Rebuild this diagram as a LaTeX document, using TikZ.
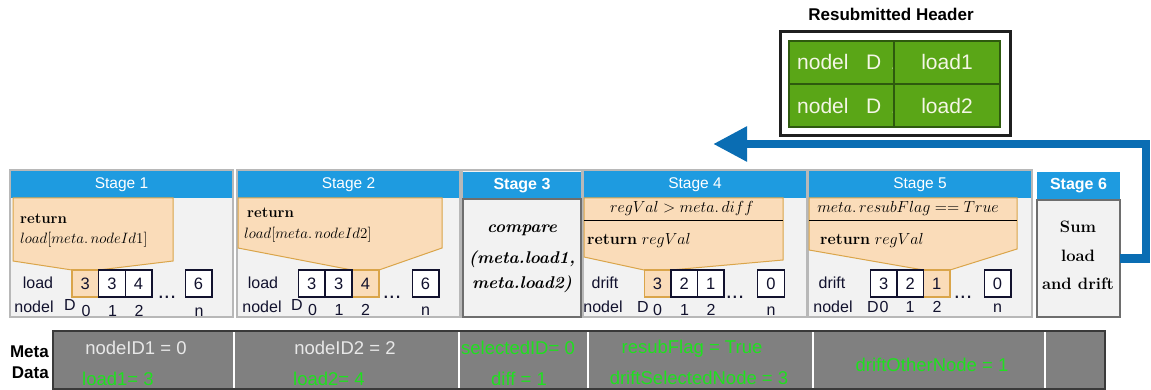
\RequirePackage{fix-cm}
\documentclass[tikz,border=0pt]{standalone}
\usepackage{fontspec}
\newfontfamily\sans{Liberation Sans}
\usetikzlibrary{arrows.meta}
\definecolor{stageblue}{HTML}{1E9BE0}
\definecolor{framegray}{HTML}{B8B8B8}
\definecolor{darkframe}{HTML}{6E6E6E}
\definecolor{bodygray}{HTML}{F2F2F2}
\definecolor{peach}{HTML}{FADCB9}
\definecolor{ochre}{HTML}{DAA54A}
\definecolor{hdrgreen}{HTML}{5AA617}
\definecolor{hdrdark}{HTML}{2E5A0E}
\definecolor{hdrtext}{HTML}{F4F6E6}
\definecolor{flowblue}{HTML}{0A6DB3}
\definecolor{metagray}{HTML}{808080}
\definecolor{metaedge}{HTML}{3A3A3A}
\definecolor{metagreen}{HTML}{1FE01F}
\definecolor{metawhite}{HTML}{E8E8E8}
\definecolor{ink}{HTML}{12122E}
\newcommand{\fs}[1]{\fontsize{#1}{#1}\selectfont}
\begin{document}
\begin{tikzpicture}[x=1pt,y=-1pt,
  box/.style={anchor=north west, inner sep=0, outer sep=0},
  stageframe/.style={box, draw=framegray, fill=bodygray, line width=1.2pt},
  stagehead/.style={box, fill=stageblue, text=white, font=\sans\fs{15.5}},
  boldhead/.style={stagehead, font=\sans\bfseries\fs{16}},
  darkbody/.style={box, draw=darkframe, fill=bodygray, line width=1.3pt},
  callout/.style={fill=peach, draw=ochre, line width=1pt},
  cell/.style={draw=ink, line width=1.4pt, fill=white, minimum width=26.6,
    minimum height=27, inner sep=0, font=\sans\fs{16.5}, text=ink},
  hcell/.style={cell, draw=ochre, fill=peach},
  lbl/.style={anchor=base, inner sep=0, font=\sans\fs{16}, text=ink},
  dots/.style={anchor=base, inner sep=0, font=\sans\fs{22}, text=ink},
  codeA/.style={anchor=west, inner sep=0, font=\fs{15}, text=black},
  codeB/.style={anchor=west, inner sep=0, font=\fs{16}, text=black},
  serifbold/.style={inner sep=0, font=\bfseries\fs{16.5}, text=black},
  hdrtxt/.style={anchor=west, inner sep=0, font=\sans\fs{21}, text=hdrtext},
  metabox/.style={box, fill=metagray, draw=white, line width=1.2pt, minimum height=58},
  metatxt/.style={inner sep=0, font=\sans\fs{18.5}, text=metawhite},
  metagr/.style={metatxt, text=metagreen},
  flow/.style={draw=flowblue, line width=8.5pt, -{Triangle[length=34pt,width=33pt]}},
]
\useasboundingbox (0,0) rectangle (1151,390);

% ---------- resubmitted header ----------
\node[inner sep=0, font=\sans\bfseries\fs{17}] (rtitle) at (891,14) {Resubmitted Header};
\node[box, draw=black!88, line width=3pt, fill=white, minimum width=230, minimum height=104] (rh) at (780,32) {};
\node[box, fill=hdrgreen, draw=hdrdark, line width=1.5pt, minimum width=211, minimum height=86] (rg) at (789,41) {};
\begin{scope}
  \clip (789,41) rectangle (893.5,127);
  \node[hdrtxt] (ida) at (797,62) {nodel};
  \node[hdrtxt] (idb) at (866,62) {D};
  \node[hdrtxt] (idc) at (890.8,62) {1};
  \node[hdrtxt] (idd) at (797,106) {nodel};
  \node[hdrtxt] (ide) at (866,106) {D};
  \node[hdrtxt] (idf) at (891.6,106) {2};
\end{scope}
\draw[hdrdark, line width=1.5pt] (789,84) -- (1000,84);
\draw[hdrdark, line width=2.6pt] (894,41) -- (894,127);
\node[inner sep=0, font=\sans\fs{21}, text=hdrtext] (ld1) at (947,62) {load1};
\node[inner sep=0, font=\sans\fs{21}, text=hdrtext] (ld2) at (947,106) {load2};

% ---------- stage frames and headers ----------
\node[stageframe, minimum width=223, minimum height=147] (s1) at (10,170) {};
\node[stagehead, minimum width=221, minimum height=26.5] (h1) at (11,171.5) {Stage 1};
\node[stageframe, minimum width=223, minimum height=147] (s2) at (237,170) {};
\node[stagehead, minimum width=221, minimum height=26.5] (h2) at (238,171.5) {Stage 2};
\node[stageframe, minimum width=120, minimum height=147] (s3f) at (462,170) {};
\node[boldhead, minimum width=118, minimum height=27] (h3) at (463,172) {Stage 3};
\node[darkbody, minimum width=118, minimum height=118] (s3) at (463,199) {};
\node[stageframe, minimum width=224, minimum height=147] (s4) at (583,170) {};
\node[stagehead, minimum width=222, minimum height=26.5] (h4) at (584,171.5) {Stage 4};
\node[stageframe, minimum width=224, minimum height=147] (s5) at (808,170) {};
\node[stagehead, minimum width=222, minimum height=26.5] (h5) at (809,171.5) {Stage 5};
\node[boldhead, minimum width=83, minimum height=28] (h6) at (1037,172) {Stage 6};
\node[darkbody, minimum width=83, minimum height=117] (s6) at (1037,200) {};

% ---------- stage 1 ----------
\draw[callout] (13,198) -- (173,198) -- (173,261) -- (98.5,270) -- (72,270) -- (13,261) -- cycle;
\node[codeA] (r1a) at (20,219) {\textbf{return}};
\node[codeA] (r1b) at (20,240) {$load[meta.\,nodeId1]$};
\node[hcell] (a0) at (85.3,283.5) {3};
\node[cell] (a1) at (111.9,283.5) {3};
\node[cell] (a2) at (138.5,283.5) {4};
\node[cell] (an) at (198.5,283.5) {6};
\node[dots] (ad) at (167,298) {...};
\node[lbl] (al) at (38,288) {load};
\node[lbl] (ak) at (34,312) {nodel};
\node[lbl] (aD) at (70,310) {D};
\node[lbl] (ai0) at (86,316) {0};
\node[lbl] (ai1) at (112.5,316) {1};
\node[lbl] (ai2) at (139,316) {2};
\node[lbl] (ain) at (199,316) {n};

% ---------- stage 2 ----------
\draw[callout] (238,198) -- (442,198) -- (442,248) -- (379,270) -- (352,270) -- (238,248) -- cycle;
\node[codeA] (r2a) at (247,213) {\textbf{return}};
\node[codeA] (r2b) at (244,235) {$load[meta.\,nodeId2]$};
\node[hcell] (b2) at (365.5,283.5) {4};
\node[cell] (b0) at (311.8,283.5) {3};
\node[cell] (b1) at (338.6,283.5) {3};
\node[cell] (bn) at (425.5,283.5) {6};
\node[dots] (bd) at (392,298) {...};
\node[lbl] (bl) at (263,288) {load};
\node[lbl] (bk) at (262,312) {nodel};
\node[lbl] (bD) at (297,310) {D};
\node[lbl] (bi0) at (312.5,315) {0};
\node[lbl] (bi1) at (339,315) {1};
\node[lbl] (bi2) at (365.5,315) {2};
\node[lbl] (bin) at (425.5,315) {n};

% ---------- stage 3 ----------
\node[serifbold, font=\bfseries\itshape\fs{17}] (c3a) at (522,230) {compare};
\node[serifbold, font=\bfseries\itshape\fs{17}] (c3b) at (522,259) {(meta.load1,};
\node[serifbold, font=\bfseries\itshape\fs{17}] (c3c) at (522,284) {meta.load2)};

% ---------- stage 4 ----------
\draw[callout] (584,198) -- (783,198) -- (783,260) -- (671,270) -- (644,270) -- (584,257) -- cycle;
\draw[black, line width=1pt] (584,221) -- (783,221);
\node[inner sep=0, font=\fs{16}, text=black] (r4a) at (682,209) {$regVal > meta.\,diff$};
\node[codeB] (r4b) at (587,240) {\textbf{return} $regVal$};
\node[hcell] (d0) at (657.5,283.5) {3};
\node[cell] (d1) at (684.1,283.5) {2};
\node[cell] (d2) at (710.7,283.5) {1};
\node[cell] (dn) at (771,283.5) {0};
\node[dots] (dd) at (735,298) {...};
\node[lbl] (dl) at (605,288) {drift};
\node[lbl] (dk) at (603,312) {nodel};
\node[lbl] (dD) at (643,312) {D};
\node[lbl] (di0) at (657.5,315) {0};
\node[lbl] (di1) at (684.5,315) {1};
\node[lbl] (di2) at (711,315) {2};
\node[lbl] (din) at (771,315) {n};

% ---------- stage 5 ----------
\draw[callout] (809,198) -- (1017,198) -- (1017,249) -- (950,270) -- (923.5,270) -- (809,250) -- cycle;
\draw[black, line width=1pt] (809,221) -- (1017,221);
\node[inner sep=0, font=\fs{16}, text=black] (r5a) at (908,209) {$meta.\,resubFlag == True$};
\node[codeB] (r5b) at (820,240) {\textbf{return} $regVal$};
\node[hcell] (e2) at (936.8,283.5) {1};
\node[cell] (e0) at (883.6,283.5) {3};
\node[cell] (e1) at (910.2,283.5) {2};
\node[cell] (en) at (997.5,283.5) {0};
\node[dots] (ed) at (963,298) {...};
\node[lbl] (el) at (832,288) {drift};
\node[lbl] (ek) at (833,312) {nodel};
\node[lbl] (eD) at (873,312) {D};
\node[lbl] (ei0) at (884,312) {0};
\node[lbl] (ei1) at (910,312) {1};
\node[lbl] (ei2) at (937,312) {2};
\node[lbl] (ein) at (997.5,312) {n};

% ---------- stage 6 ----------
\node[serifbold] (c6a) at (1078,227) {Sum};
\node[serifbold] (c6b) at (1078,256) {load};
\node[serifbold] (c6c) at (1078,284) {and drift};

% ---------- resubmission path ----------
\coordinate (tip) at (713,144);
\draw[flow] (s6.east) -- ++(26,0) |- (tip);

% ---------- metadata row ----------
\node[inner sep=0, anchor=east, font=\sans\bfseries\fs{17}] (mt1) at (49,352) {Meta};
\node[inner sep=0, anchor=east, font=\sans\bfseries\fs{17}] (mt2) at (49,373) {Data};
\node[metabox, minimum width=181] (m1) at (53,331) {};
\node[metabox, minimum width=225] (m2) at (234,331) {};
\node[metabox, minimum width=129] (m3) at (459,331) {};
\node[metabox, minimum width=225] (m4) at (588,331) {};
\node[metabox, minimum width=232] (m5) at (813,331) {};
\node[metabox, minimum width=60] (m6) at (1045,331) {};
\draw[metaedge, line width=1.6pt] (53,331) rectangle (1105,389);
\node[metatxt] (t1a) at (136,348) {nodeID1 = 0};
\node[metagr, anchor=west] (t1b) at (82,379) {load1= 3};
\node[metatxt] (t2a) at (345,348) {nodeID2 = 2};
\node[metagr, anchor=west] (t2b) at (293,379) {load2= 4};
\node[metagr, anchor=west] (t3a) at (461,348) {selectedID= 0};
\node[metagr] (t3b) at (519,379) {diff = 1};
\node[metagr] (t4a) at (692,349) {resubFlag = True};
\node[metagr] (t4b) at (699,378) {driftSelectedNode = 3};
\node[metagr] (t5a) at (932,365) {driftOtherNode = 1};
\end{tikzpicture}
\end{document}
